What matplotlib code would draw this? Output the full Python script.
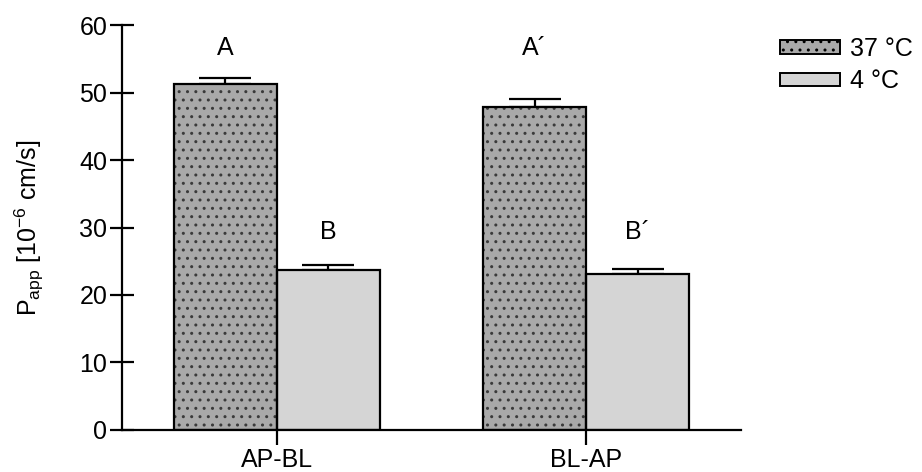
import numpy as np
import matplotlib
matplotlib.use('Agg')
import matplotlib.pyplot as plt
from matplotlib.patches import Patch

plt.rcParams['font.family'] = ['Liberation Sans', 'DejaVu Sans']
plt.rcParams['hatch.linewidth'] = 1.0

# permeability data (mean and upper error) per direction
directions = ['AP-BL', 'BL-AP']
temps = ['37 °C', '4 °C']
papp_37 = [51.3, 47.9]
err_37 = [0.8, 1.1]
papp_4 = [23.7, 23.1]
err_4 = [0.7, 0.8]
letters_37 = ['A', 'A\u00b4']
letters_4 = ['B', 'B\u00b4']

fill_37 = '#a9a9a9'
fill_4 = '#d5d5d5'
fs = 18

fig = plt.figure(figsize=(9.22, 4.72), dpi=100)
ax = fig.add_axes([0.1323, 0.089, 0.6714, 0.858])

x = np.arange(len(directions))
w = 1 / 3.

# warm bars: dotted fill then a black outline on top
ax.bar(x - w/2, papp_37, w, color=fill_37, edgecolor='#3a3a3a', hatch='..', linewidth=0, zorder=2)
ax.bar(x - w/2, papp_37, w, fill=False, edgecolor='black', linewidth=1.6, zorder=3)
ax.bar(x + w/2, papp_4, w, color=fill_4, edgecolor='black', linewidth=1.6, zorder=2)

ax.errorbar(x - w/2, papp_37, yerr=[np.zeros(2), err_37], fmt='none', ecolor='black',
            elinewidth=1.6, capsize=19, capthick=1.6, zorder=1)
ax.errorbar(x + w/2, papp_4, yerr=[np.zeros(2), err_4], fmt='none', ecolor='black',
            elinewidth=1.6, capsize=19, capthick=1.6, zorder=1)

for i in range(len(directions)):
    ax.text(x[i] - w/2, 56.6, letters_37[i], ha='center', va='center', fontsize=fs)
    ax.text(x[i] + w/2, 29.4, letters_4[i], ha='center', va='center', fontsize=fs)

ax.set_xlim(-0.5, 1.5)
ax.set_ylim(0, 60)
ax.set_yticks(np.arange(0, 61, 10))
ax.set_xticks(x)
ax.set_xticklabels(directions)

for s in ['top', 'right']:
    ax.spines[s].set_visible(False)
for s in ['left', 'bottom']:
    ax.spines[s].set_linewidth(1.6)

ax.tick_params(axis='y', direction='inout', length=17, width=1.6, labelsize=fs, pad=2)
ax.tick_params(axis='x', direction='out', length=11, width=1.6, labelsize=fs, pad=2)

ax.set_ylabel(r'P$_{\mathregular{app}}$ [10$^{\mathregular{-6}}$ cm/s]', fontsize=fs, labelpad=24)

handles = [Patch(facecolor=fill_37, edgecolor='black', hatch='..', linewidth=1.4),
           Patch(facecolor=fill_4, edgecolor='black', linewidth=1.4)]
fig.legend(handles, temps, loc='upper left', bbox_to_anchor=(0.822, 0.97), frameon=False,
           fontsize=fs, handlelength=2.4, handleheight=0.48, handletextpad=0.4, labelspacing=0.35)

fig.savefig('out.png', dpi=100)
